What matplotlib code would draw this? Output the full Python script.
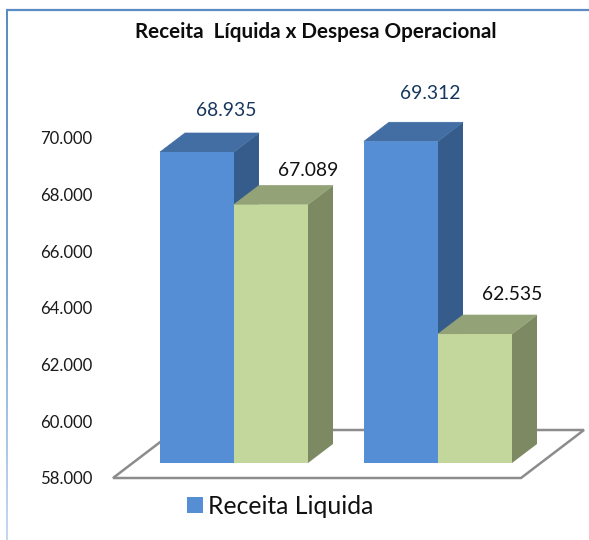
import numpy as np
import matplotlib
matplotlib.use("Agg")
import matplotlib.pyplot as plt
from matplotlib.colors import LinearSegmentedColormap
from matplotlib.patches import Polygon, Patch

# values
receita = [68935, 69312]
despesa = [67089, 62535]
y_ticks = [58000, 60000, 62000, 64000, 66000, 68000, 70000]
y_tick_labels = ["58.000", "60.000", "62.000", "64.000", "66.000", "68.000", "70.000"]
receita_labels = ["68.935", "69.312"]
despesa_labels = ["67.089", "62.535"]
positions = [0, 1]

W, H = 589, 540
plt.rcParams["font.family"] = "Lato"

BLUE = ("#558ed5", "#426ea3", "#355c8a")
GREEN = ("#c3d69b", "#93a377", "#7d8963")


def px_axes(fig, left, right, bottom, top):
    # axes placed by pixel positions, y measured from the top of the image
    return fig.add_axes([left / W, 1 - bottom / H, (right - left) / W, (bottom - top) / H])


fig = plt.figure(figsize=(W / 100, H / 100), dpi=100, facecolor="white")

# outer frame, only top and left edges show
bg = fig.add_axes([0, 0, 1, 1])
bg.set_xlim(0, W)
bg.set_ylim(H, 0)
bg.axis("off")
bg.plot([6, W], [9.5, 9.5], color="#5b8cc4", lw=1.6, solid_capstyle="butt")
fade = LinearSegmentedColormap.from_list("fade", ["#5b8cc4", "#7fa6d4", "#c6d9f0"])
bg.imshow(np.linspace(0, 1, 256).reshape(-1, 1), cmap=fade, aspect="auto", extent=[5.5, 7.5, H, 9])
bg.set_xlim(0, W)
bg.set_ylim(H, 0)

# floor and tick labels
ax_floor = px_axes(fig, 113, 521, 478, 138)
ax_floor.set_xlim(-0.5, 1.5)
ax_floor.set_ylim(58000, 70000)
ax_floor.patch.set_visible(False)
for s in ax_floor.spines.values():
    s.set_visible(False)
ax_floor.set_xticks([])
ax_floor.set_yticks(y_ticks)
ax_floor.set_yticklabels(y_tick_labels, fontsize=12.1, color="#1a1a1a")
ax_floor.tick_params(axis="y", length=0, pad=15)
floor_dx = 63 / 204
floor_dy = 48 * 12000 / 340
ax_floor.add_patch(Polygon(
    [(-0.5, 58000), (1.5, 58000), (1.5 + floor_dx, 58000 + floor_dy), (-0.5 + floor_dx, 58000 + floor_dy)],
    closed=True, facecolor="none", edgecolor="#8c8c8c", lw=1.8, clip_on=False))

# bars
ax = px_axes(fig, 132, 540, 463, 463 - 12000 * 0.02844)
ax.set_xlim(-0.5, 1.5)
ax.set_ylim(58000, 70000)
ax.patch.set_visible(False)
ax.axis("off")

bar_w = 74 / 204
depth_x = 25 / 204
depth_y = 19 / 0.02844


def bar3d(x, value, colors):
    left = x
    right = x + bar_w
    ax.add_patch(Polygon([(right, 58000), (right + depth_x, 58000 + depth_y),
                          (right + depth_x, value + depth_y), (right, value)],
                         closed=True, facecolor=colors[2], edgecolor="none", clip_on=False))
    ax.add_patch(Polygon([(left, value), (right, value),
                          (right + depth_x, value + depth_y), (left + depth_x, value + depth_y)],
                         closed=True, facecolor=colors[1], edgecolor=colors[1], lw=0.5, clip_on=False))
    front = ax.bar(x, value - 58000, width=bar_w, bottom=58000, align="edge", color=colors[0], clip_on=False)
    for p in front:
        p.set_snap(False)


for i, x in enumerate(positions):
    bar3d(x - bar_w, receita[i], BLUE)
for i, x in enumerate(positions):
    bar3d(x, despesa[i], GREEN)

# value labels, offsets in points from the bar front top
receita_off = [(21.2, 30), (20.9, 34.5)]
despesa_off = [(27, 24.3), (27, 28.8)]
for i, x in enumerate(positions):
    ax.annotate(receita_labels[i], (x - bar_w / 2, receita[i]), xytext=receita_off[i],
                textcoords="offset points", ha="center", va="center",
                fontsize=13.9, color="#17365d", annotation_clip=False)
    ax.annotate(despesa_labels[i], (x + bar_w / 2, despesa[i]), xytext=despesa_off[i],
                textcoords="offset points", ha="center", va="center",
                fontsize=13.9, color="#111111", annotation_clip=False)

fig.text(315.5 / W, 1 - 31.5 / H, "Receita  Líquida x Despesa Operacional",
         ha="center", va="center", fontsize=14.9, fontweight="bold", color="#0d0d0d")

fig.legend(handles=[Patch(facecolor=BLUE[0], label="Receita Liquida")],
           loc="center", bbox_to_anchor=(280 / W, 1 - 506 / H), frameon=False,
           fontsize=17.8, handlelength=0.65, handleheight=0.65, handletextpad=0.2,
           labelcolor="#111111")

fig.savefig("out.png", dpi=100)
